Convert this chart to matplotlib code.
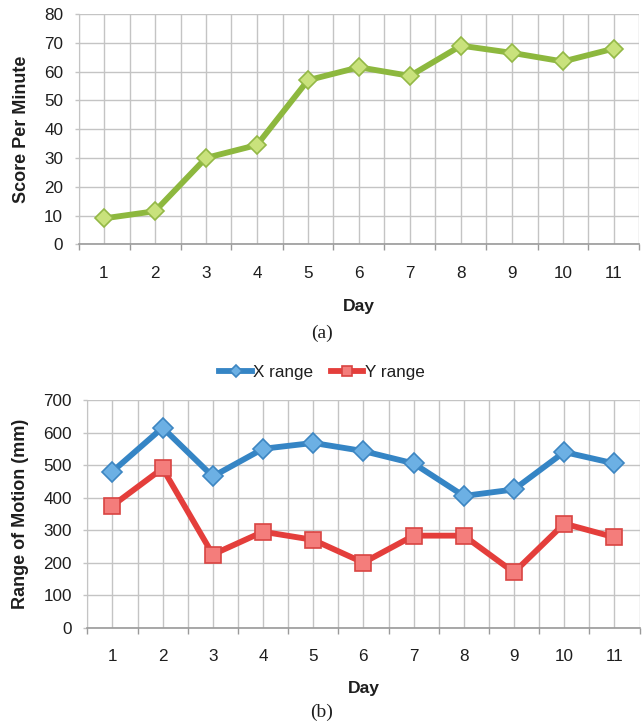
import matplotlib
matplotlib.use("Agg")
import matplotlib.pyplot as plt
from matplotlib.ticker import MultipleLocator, FixedLocator

plt.rcParams['font.family'] = ['Liberation Sans', 'DejaVu Sans']

days = [1, 2, 3, 4, 5, 6, 7, 8, 9, 10, 11]
day_labels = [str(d) for d in days]
score_per_minute = [9, 11.5, 30, 34.5, 57, 61.5, 58.5, 69, 66.5, 63.5, 68]
x_range = [480, 615, 465, 550, 568, 543, 505, 405, 425, 540, 505]
y_range = [375, 490, 225, 295, 270, 200, 283, 283, 170, 320, 278]

W, H = 644, 728
fig = plt.figure(figsize=(W / 100, H / 100), dpi=100)

GRID = '#c4c4c4'
AXIS = '#9a9a9a'
TXT = '#1e1e1e'
FS = 12.3


def px_axes(left, right, top, bottom):
    return fig.add_axes([left / W, 1 - bottom / H, (right - left) / W, (bottom - top) / H])


def style(ax, ymax, ystep):
    ax.set_xlim(0.5, 11.5)
    ax.set_ylim(0, ymax)
    ax.yaxis.set_major_locator(MultipleLocator(ystep))
    ax.set_xticks(days)
    ax.set_xticklabels(day_labels)
    ax.xaxis.set_minor_locator(FixedLocator([d + 0.5 for d in [0] + days]))
    ax.grid(True, which='major', axis='both', color=GRID, lw=1.0, zorder=0)
    ax.grid(True, which='minor', axis='x', color=GRID, lw=1.0, zorder=0)
    for s in ['top', 'right']:
        ax.spines[s].set_visible(False)
    ax.spines['left'].set_color(GRID)
    ax.spines['bottom'].set_color(AXIS)
    ax.spines['bottom'].set_linewidth(1.2)
    ax.tick_params(axis='x', which='major', length=0, pad=15.5, labelsize=FS, colors=TXT)
    ax.tick_params(axis='x', which='minor', length=4, width=1.0, color=AXIS, direction='out')
    ax.tick_params(axis='y', which='major', length=3, width=1.0, color=GRID, pad=8,
                   labelsize=FS, labelcolor=TXT)
    ax.set_axisbelow(True)


def labels(ax, ylab, ylx, xly):
    ax.set_ylabel(ylab, fontsize=13, fontweight='bold', color=TXT)
    ax.yaxis.label.set_va('center')
    ax.yaxis.set_label_coords(ylx, 0.5)
    ax.set_xlabel('Day', fontsize=12.6, fontweight='bold', color=TXT)
    ax.xaxis.label.set_va('center')
    ax.xaxis.set_label_coords(0.5, xly)


# ---- (a) ----
ax1 = px_axes(78.5, 639.5, 14, 244.3)
style(ax1, 80, 10)
ax1.plot(days, score_per_minute, color='#8db83e', lw=4.2, marker='D', ms=9.5,
         markerfacecolor='#c9e27c', markeredgecolor='#93b846', markeredgewidth=1.2,
         solid_joinstyle='round', zorder=3, clip_on=False)
labels(ax1, 'Score Per Minute', (21.5 - 78.5) / 561, (244.3 - 306) / 230.3)
fig.text(322 / W, 1 - 333 / H, '(a)', ha='center', va='center',
         fontsize=14, family='Liberation Serif', color=TXT)

# ---- (b) ----
ax2 = px_axes(87.3, 639.5, 400, 627.7)
style(ax2, 700, 100)
l1, = ax2.plot(days, x_range, color='#3585c5', lw=4.2, marker='D', ms=10.5,
               markerfacecolor='#6cb0e4', markeredgecolor='#3d86c2', markeredgewidth=1.2,
               solid_joinstyle='round', zorder=3, label='X range', clip_on=False)
l2, = ax2.plot(days, y_range, color='#e43e3b', lw=4.2, marker='s', ms=11.5,
               markerfacecolor='#f47d7b', markeredgecolor='#d94442', markeredgewidth=1.2,
               solid_joinstyle='round', zorder=3, label='Y range', clip_on=False)
labels(ax2, 'Range of Motion (mm)', (20.7 - 87.3) / 552.2, (627.7 - 688) / 227.7)
fig.legend(handles=[l1, l2], loc='center', bbox_to_anchor=(322 / W, 1 - 372 / H),
           ncol=2, frameon=False, fontsize=FS, handlelength=1.9, handletextpad=0.1,
           columnspacing=1.0, markerscale=0.6, labelcolor=TXT)
fig.text(322 / W, 1 - 712 / H, '(b)', ha='center', va='center',
         fontsize=14, family='Liberation Serif', color=TXT)

fig.savefig('out.png', dpi=100, facecolor='white')
